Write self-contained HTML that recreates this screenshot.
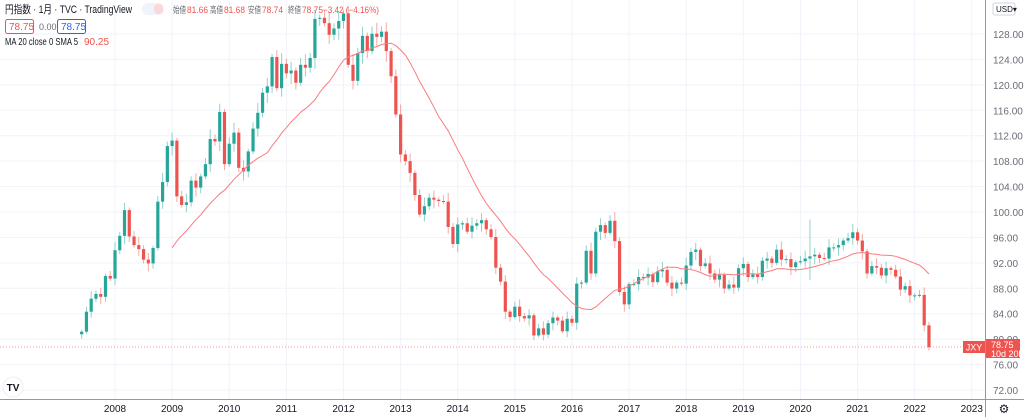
<!DOCTYPE html>
<html><head><meta charset="utf-8"><style>
body{margin:0;width:1024px;height:417px;overflow:hidden;background:#fff;font-family:"Liberation Sans","Noto Sans CJK JP",sans-serif;}
svg{position:absolute;left:0;top:0}
</style></head><body>
<svg id="s" width="1024" height="417" xmlns="http://www.w3.org/2000/svg"></svg>
<script>
const s=document.getElementById('s');
const ns='http://www.w3.org/2000/svg';
function el(t,a,txt){const e=document.createElementNS(ns,t);for(const k in a)e.setAttribute(k,a[k]);if(txt!==undefined)e.textContent=txt;s.appendChild(e);return e;}
const Y=v=>34+(128-v)*6.357;
const X=m=>115+m*4.76;
for(let v=72;v<=128;v+=4){el('line',{x1:0,x2:985,y1:Y(v),y2:Y(v),stroke:'#f0f3fa','stroke-width':1});}
for(let y=2008;y<=2023;y++){const x=X((y-2008)*12);el('line',{x1:x,x2:x,y1:0,y2:399,stroke:'#f0f3fa','stroke-width':1});}
const u=[123.2,118.6,115.8,114.8,115.4,111.2,111.7,
106.4,103.9,99.7,104.0,105.5,106.2,108.1,108.8,106.0,98.4,95.5,90.6,
89.9,97.6,98.9,98.5,95.3,96.3,94.7,93.0,89.7,90.0,86.4,93.0,
90.3,88.9,93.5,94.0,91.3,88.4,86.5,84.2,83.5,80.4,83.7,81.1,
82.1,81.8,83.1,81.2,81.5,80.5,76.7,76.6,77.1,78.2,77.6,76.9,
76.2,81.2,82.9,80.0,78.3,79.8,78.1,78.4,77.9,79.8,82.4,86.7,
91.7,92.6,94.2,97.4,100.4,99.1,97.8,98.1,98.3,98.4,102.4,105.3,
102.0,101.8,103.2,102.2,101.8,101.3,102.8,104.1,109.6,112.3,118.6,119.8,
117.5,119.6,120.1,119.4,124.1,122.4,123.9,121.2,119.9,120.6,123.1,120.2,
121.1,112.7,112.5,106.5,110.7,103.2,102.1,103.4,101.4,104.8,114.4,117.0,
112.8,112.8,111.4,111.5,110.8,112.4,110.3,110.0,112.5,113.7,112.5,112.7,
109.2,106.7,106.3,109.3,108.8,110.7,111.9,111.0,113.7,112.9,113.5,109.7,
108.9,111.4,110.9,111.4,108.3,107.9,108.7,106.3,108.1,108.0,109.5,108.6,
108.4,107.9,107.5,107.2,107.8,107.9,105.9,105.9,105.5,104.7,104.3,103.3,
104.7,106.6,110.7,109.3,109.6,111.1,109.7,110.0,111.3,113.9,113.2,115.1,
115.1,115.0,121.7,127.0];
const c=u.map(p=>10000/p);
const G='#26a69a',R='#ef5350';
for(let i=0;i<c.length;i++){
 const m=i-7,x=X(m);
 const o=i?c[i-1]:c[0]*0.995,cl=c[i];
 const r1=0.004+0.012*((i*7)%5)/5,r2=0.004+0.012*((i*3+2)%5)/5;
 let hi=Math.max(o,cl)*(1+r1),lo=Math.min(o,cl)*(1-r2);
 if(i==153){hi=98.8;lo=89.3;}
 const col=cl>=o?G:R;
 el('line',{x1:x,x2:x,y1:Y(hi),y2:Y(lo),stroke:col,'stroke-opacity':0.5,'stroke-width':1});
 const yt=Y(Math.max(o,cl)),yb=Y(Math.min(o,cl));
 el('rect',{x:x-1.6,y:yt,width:3.2,height:Math.max(1,yb-yt),fill:col});
}
let pts=[];
for(let i=19;i<c.length;i++){let a=0;for(let j=i-19;j<=i;j++)a+=c[j];pts.push(X(i-7).toFixed(1)+','+Y(a/20).toFixed(1));}
el('polyline',{points:pts.join(' '),fill:'none',stroke:'#f77c80','stroke-width':1});
el('line',{x1:0,x2:985,y1:347,y2:347,stroke:'#ef5350','stroke-width':1,'stroke-dasharray':'1,2','stroke-opacity':0.6});
el('line',{x1:985.5,x2:985.5,y1:0,y2:417,stroke:'#9598a1','stroke-width':1});
el('line',{x1:0,x2:1024,y1:399.5,y2:399.5,stroke:'#9598a1','stroke-width':1});
for(let v=72;v<=128;v+=4){el('text',{x:993,y:Y(v)+4,'font-size':10,fill:'#6a6d78'},v.toFixed(2));}
for(let y=2008;y<=2023;y++){el('text',{x:X((y-2008)*12),y:412,'font-size':10,fill:'#131722','text-anchor':'middle'},y);}
el('rect',{x:963,y:341,width:22,height:12,fill:'#ef5350'});
el('text',{x:974,y:350.5,'font-size':9,fill:'#fff','text-anchor':'middle'},'JXY');
el('rect',{x:986,y:339,width:34,height:19,fill:'#ef5350'});
el('text',{x:991,y:348,'font-size':9,fill:'#fff'},'78.75');
el('text',{x:991,y:357,'font-size':9,fill:'#fff'},'10d 20h');
el('rect',{x:993,y:3,width:22,height:12,rx:2,fill:'#fff',stroke:'#d1d4dc'});
el('text',{x:996,y:12,'font-size':8,fill:'#131722'},'USD▾');
el('text',{x:1004,y:413,'font-size':12,fill:'#131722','text-anchor':'middle'},'⚙');
el('circle',{cx:13,cy:387,r:10,fill:'#fff',stroke:'#eee'});
el('text',{x:13,y:391,'font-size':10,'font-weight':'bold',fill:'#131722','text-anchor':'middle'},'TV');
el('text',{x:5,y:13,'font-size':11,fill:'#131722',textLength:127,lengthAdjust:'spacingAndGlyphs'},'円指数 · 1月 · TVC · TradingView');
el('rect',{x:142,y:3,width:22,height:12,rx:6,fill:'#f0f3fa'});
el('rect',{x:154,y:4,width:9,height:10,rx:4,fill:'#fcd7dc'});
const hp=[['始値',173,13],['81.66',187,21],['高値',210,13],['81.68',224,21],['安値',248,13],['78.74',262,21],['終値',288,13],['78.75',302,21],['−3.42 (−4.16%)',323,56]];
hp.forEach(([t,x,w],k)=>el('text',{x:x,y:13,'font-size':9,fill:k%2||k==8?'#ef5350':'#6a6d78',textLength:w,lengthAdjust:'spacingAndGlyphs'},t));
el('rect',{x:5.5,y:19.5,width:28,height:14,rx:2,fill:'#fff',stroke:'#ef5350'});
el('text',{x:9,y:30,'font-size':10,fill:'#ef5350'},'78.75');
el('text',{x:39,y:30,'font-size':9,fill:'#6a6d78'},'0.00');
el('rect',{x:57.5,y:19.5,width:28,height:14,rx:2,fill:'#fff',stroke:'#2962ff'});
el('text',{x:61,y:30,'font-size':10,fill:'#2962ff'},'78.75');
el('text',{x:5,y:45,'font-size':10,fill:'#131722',textLength:73,lengthAdjust:'spacingAndGlyphs'},'MA 20 close 0 SMA 5');
el('text',{x:84,y:45,'font-size':10,fill:'#ef5350'},'90.25');
</script>
</body></html>
